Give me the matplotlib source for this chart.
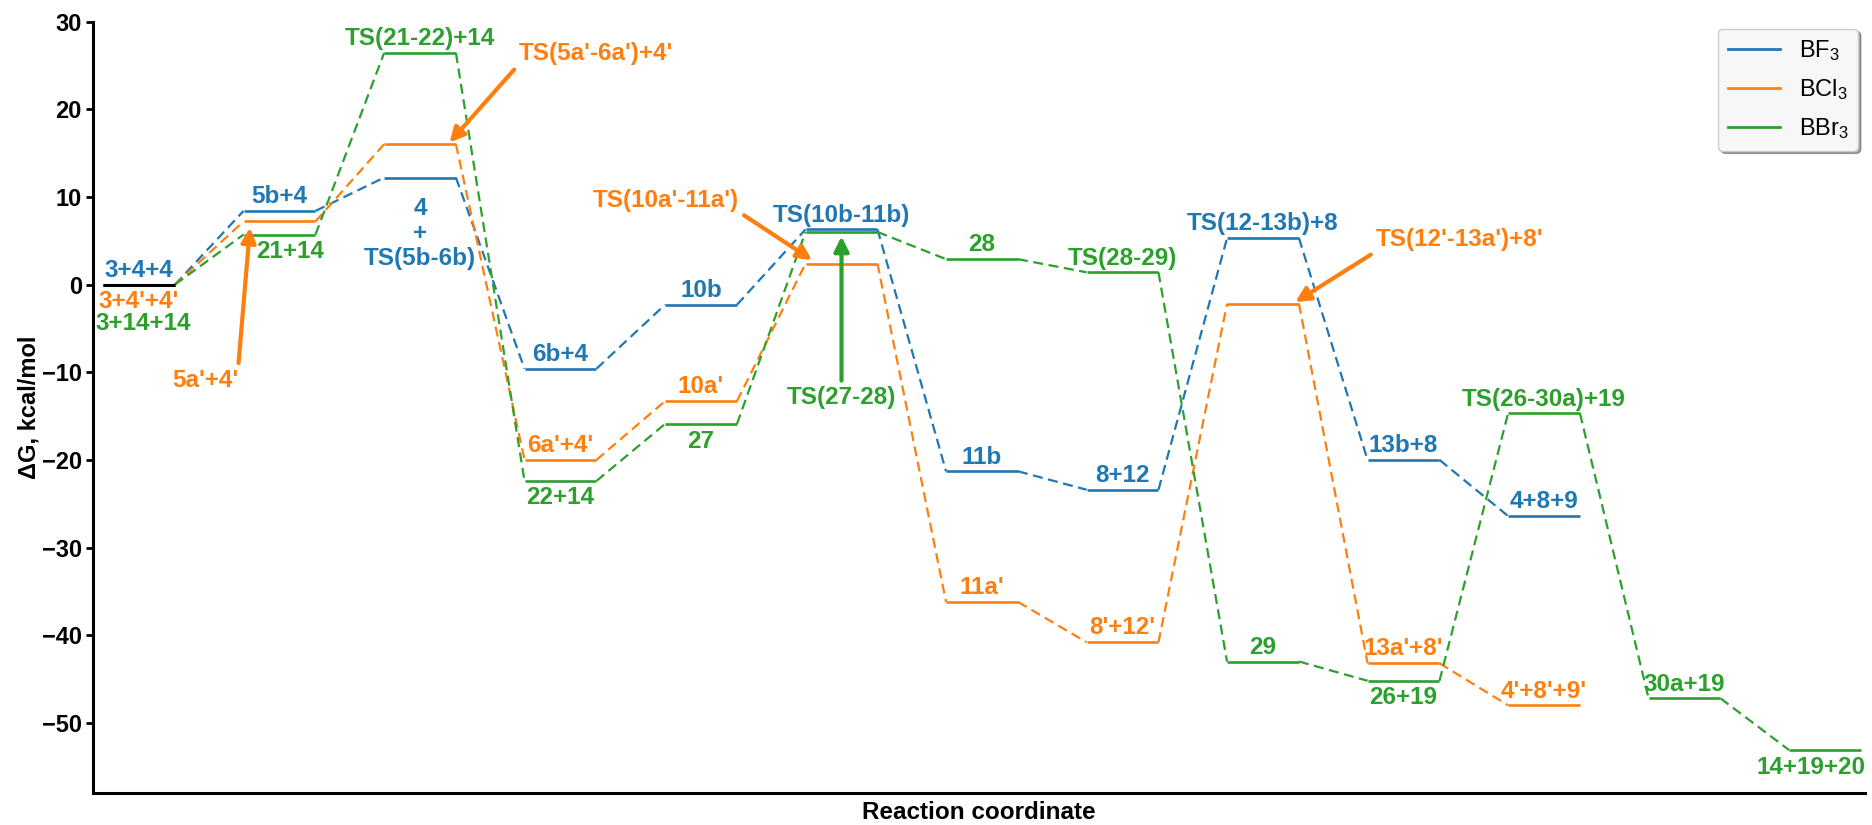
import matplotlib
matplotlib.use("Agg")
from matplotlib import pyplot as plt
from matplotlib.lines import Line2D

plt.rcParams['font.family'] = ['Liberation Sans', 'DejaVu Sans']
plt.rcParams['mathtext.fontset'] = 'custom'
plt.rcParams['mathtext.rm'] = 'Liberation Sans'
plt.rcParams['mathtext.it'] = 'Liberation Sans'

# free energies, kcal/mol
bf3_g = [0.0, 8.4, 12.2, -9.6, -2.3, 6.3, -21.3, -23.4, 5.3, -20.0, -26.4]
bcl3_g = [0.0, 7.2, 16.0, -20.0, -13.3, 2.4, -36.2, -40.8, -2.2, -43.2, -48.0]
bbr3_g = [0.0, 5.7, 26.4, -22.4, -15.9, 6.0, 2.9, 1.4, -43.0, -45.2, -14.7, -47.2, -53.1]

bf3_names = ["3+4+4", "5b+4", "4\n+\nTS(5b-6b)", "6b+4", "10b", "TS(10b-11b)",
             "11b", "8+12", "TS(12-13b)+8", "13b+8", "4+8+9"]
bcl3_names = ["3+4'+4'", "5a'+4'", "TS(5a'-6a')+4'", "6a'+4'", "10a'", "TS(10a'-11a')",
              "11a'", "8'+12'", "TS(12'-13a')+8'", "13a'+8'", "4'+8'+9'"]
bbr3_names = ["3+14+14", "21+14", "TS(21-22)+14", "22+14", "27", "TS(27-28)",
              "28", "TS(28-29)", "29", "26+19", "TS(26-30a)+19", "30a+19", "14+19+20"]

# where each label goes: a=above, b=below, b2=second row below, m=multi-line below, arr=arrow
bf3_place = ['a', 'a', 'm', 'a', 'a', 'a', 'a', 'a', 'a', 'a', 'a']
bcl3_place = ['b', 'arr', 'arr', 'a', 'a', 'arr', 'a', 'a', 'arr', 'a', 'a']
bbr3_place = ['b2', 'b', 'a', 'b', 'b', 'arr', 'a', 'a', 'a', 'b', 'a', 'a', 'b']

series_names = ["BF$_3$", "BCl$_3$", "BBr$_3$"]
colors = ['#1f77b4', '#ff7f0e', '#2ca02c']

# arrow labels: (series, step) -> (tip, text centre, relpos of arrow start on text box)
arrows = {
    (1, 1): ((0.79, 6.5), (0.47, -10.9), (1, 1)),
    (1, 2): ((2.21, 16.2), (3.25, 26.4), (0, 0)),
    (1, 5): ((4.79, 2.8), (3.75, 9.6), (1, 0)),
    (2, 5): ((5.0, 5.5), (5.0, -12.9), (0.5, 1)),
    (1, 8): ((8.23, -2.0), (9.40, 5.1), (0, 0)),
}
# small horizontal nudges of some labels
nudge = {(2, 0): 0.03, (2, 1): 0.075, (2, 12): -0.1}

half = 0.256
fs = 17.5

fig = plt.figure(figsize=(18.72, 8.25), dpi=100)
ax = fig.add_axes([0.0497, 0.0388, 0.9466, 0.935])

all_g = [bf3_g, bcl3_g, bbr3_g]
all_names = [bf3_names, bcl3_names, bbr3_names]
all_place = [bf3_place, bcl3_place, bbr3_place]

for s, (g, names, place) in enumerate(zip(all_g, all_names, all_place)):
    c = colors[s]
    for i, v in enumerate(g):
        ax.plot([i - half, i + half], [v, v], color=c, lw=1.9, solid_capstyle='butt', zorder=3)
        if i + 1 < len(g):
            ax.plot([i + half, i + 1 - half], [v, g[i + 1]], color=c, lw=1.6,
                    ls=(0, (4.5, 2.5)), zorder=2)
        p = place[i]
        x = i + nudge.get((s, i), 0)
        if p == 'a':
            ax.annotate(names[i], (x, v), xytext=(0, 2), textcoords='offset points',
                        ha='center', va='bottom', color=c, fontsize=fs, fontweight='bold')
        elif p == 'b':
            ax.annotate(names[i], (x, v), xytext=(0, -4), textcoords='offset points',
                        ha='center', va='top', color=c, fontsize=fs, fontweight='bold')
        elif p == 'b2':
            ax.annotate(names[i], (x, v), xytext=(0, -20), textcoords='offset points',
                        ha='center', va='top', color=c, fontsize=fs, fontweight='bold')
        elif p == 'm':
            ax.annotate(names[i], (x, v), xytext=(0, -14), textcoords='offset points',
                        ha='center', va='top', color=c, fontsize=fs, fontweight='bold',
                        linespacing=1.12, multialignment='center')
        elif p == 'arr':
            tip, txt, rel = arrows[(s, i)]
            ax.annotate(names[i], xy=tip, xytext=txt, ha='center', va='center',
                        color=c, fontsize=fs, fontweight='bold',
                        arrowprops=dict(arrowstyle='-|>', color=c, lw=3,
                                        mutation_scale=22, shrinkA=2, shrinkB=0,
                                        relpos=rel),
                        zorder=4)

# common starting level drawn in black
ax.plot([-half, half], [0, 0], color='black', lw=2.2, solid_capstyle='butt', zorder=4)

handles = [Line2D([], [], color=c, lw=2) for c in colors]
leg = ax.legend(handles, series_names, loc='upper right', fontsize=17, shadow=True,
                fancybox=True, framealpha=1, facecolor='#f7f7f7', edgecolor='#cccccc',
                handlelength=2.2, labelspacing=0.6, borderaxespad=0.3)

ax.set_xlim(-0.327, 12.285)
ax.set_ylim(-58, 30)
ax.set_yticks([30, 20, 10, 0, -10, -20, -30, -40, -50])
ax.set_xticks([])
for lab in ax.get_yticklabels():
    lab.set_fontweight('bold')
ax.tick_params(axis='y', labelsize=17, width=2, length=5, pad=3)
ax.spines['top'].set_visible(False)
ax.spines['right'].set_visible(False)
ax.spines['left'].set_linewidth(2.2)
ax.spines['bottom'].set_linewidth(2.2)
ax.set_ylabel("ΔG, kcal/mol", fontsize=17, fontweight='bold', labelpad=1)
ax.set_xlabel("Reaction coordinate", fontsize=17.5, fontweight='bold', labelpad=6)

fig.savefig("out.png", dpi=100)
